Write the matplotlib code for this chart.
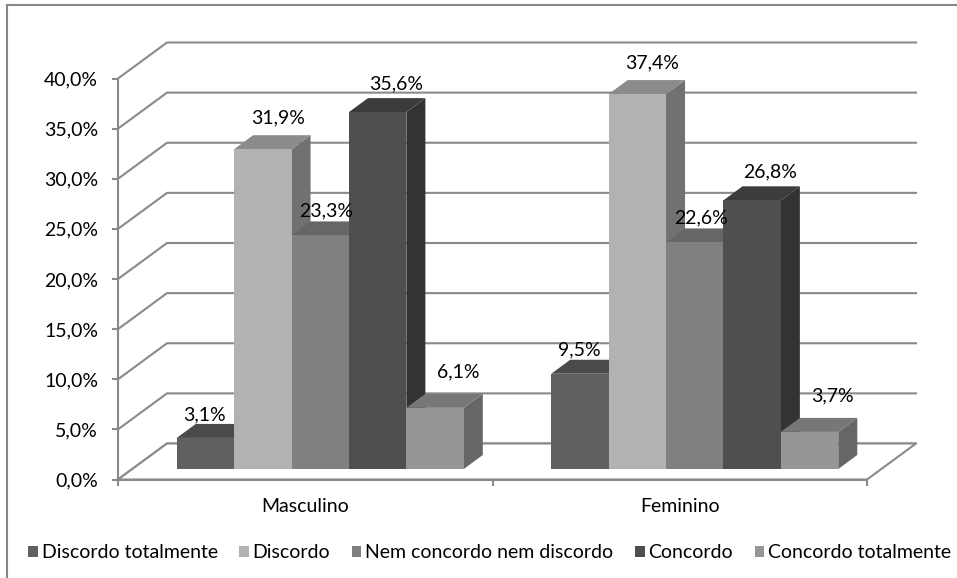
import matplotlib
matplotlib.use("Agg")
import matplotlib.pyplot as plt
from matplotlib.patches import Polygon, Rectangle, Patch
from matplotlib.lines import Line2D
from matplotlib.ticker import FuncFormatter

# ---- data -------------------------------------------------------------
categories = ["Masculino", "Feminino"]
series_names = ["Discordo totalmente", "Discordo", "Nem concordo nem discordo",
                "Concordo", "Concordo totalmente"]
discordo_totalmente = [3.1, 9.5]
discordo = [31.9, 37.4]
nem_concordo = [23.3, 22.6]
concordo = [35.6, 26.8]
concordo_totalmente = [6.1, 3.7]
series_values = [discordo_totalmente, discordo, nem_concordo, concordo, concordo_totalmente]
y_ticks = [0, 5, 10, 15, 20, 25, 30, 35, 40]

# ---- style ------------------------------------------------------------
front_colors = ["#606060", "#b2b2b2", "#808080", "#4f4f4f", "#969696"]
top_colors = ["#4a4a4a", "#8b8b8b", "#666666", "#3c3c3c", "#777777"]
side_colors = ["#404040", "#717171", "#5a5a5a", "#333333", "#666666"]
grid_color = "#8a8a8a"
FONT = ["Lato", "DejaVu Sans"]
FS = 14

plt.rcParams["font.family"] = FONT

W, H = 957, 578
fig = plt.figure(figsize=(W / 100, H / 100), dpi=100)
fig.patch.set_facecolor("white")

# front plane of the 3-D box, in pixels
X0, X1 = 118, 867
Y0, Y1 = 479.5, 78.5
ax = fig.add_axes([X0 / W, 1 - Y0 / H, (X1 - X0) / W, (Y0 - Y1) / H])
ax.set_xlim(0, 2)
ax.set_ylim(0, 40)
ax.set_facecolor("none")

px_x = 2 / (X1 - X0)      # data units per pixel
px_y = 40 / (Y0 - Y1)

# depth of the box, position/depth of the bar row (pixels)
depth_dx, depth_dy = 49 * px_x, 36 * px_y
row_dx, row_dy = 15 * px_x, 10.5 * px_y
bar_dx, bar_dy = 19 * px_x, 14 * px_y

n = len(series_values)
group_w = 0.7665
bar_w = group_w / n

# side wall + back wall gridlines
for v in y_ticks:
    ax.add_line(Line2D([0, depth_dx, 2 + depth_dx], [v, v + depth_dy, v + depth_dy],
                       color=grid_color, lw=1.5, zorder=0.5, clip_on=False,
                       solid_joinstyle="miter"))

# floor
floor = Polygon([(0, 0), (2, 0), (2 + depth_dx, depth_dy), (depth_dx, depth_dy)],
                closed=True, facecolor="white", edgecolor=grid_color, lw=1.5,
                zorder=0.6, clip_on=False)
ax.add_patch(floor)

# bars (front, top and right faces)
label_nudge = [(-1, 9.5), (15, 17.5), (6, 10.5), (18, 14), (23, 22)]
z = 2
for j, cat in enumerate(categories):
    start = j + 0.5 - group_w / 2
    for i, vals in enumerate(series_values):
        v = vals[j]
        x = start + i * bar_w + row_dx
        y = row_dy
        front = Rectangle((x, y), bar_w, v, facecolor=front_colors[i],
                          edgecolor="none", zorder=z, clip_on=False)
        top = Polygon([(x, y + v), (x + bar_w, y + v),
                       (x + bar_w + bar_dx, y + v + bar_dy), (x + bar_dx, y + v + bar_dy)],
                      closed=True, facecolor=top_colors[i], edgecolor="none",
                      zorder=z, clip_on=False)
        side = Polygon([(x + bar_w, y), (x + bar_w, y + v),
                        (x + bar_w + bar_dx, y + v + bar_dy), (x + bar_w + bar_dx, y + bar_dy)],
                       closed=True, facecolor=side_colors[i], edgecolor="none",
                       zorder=z, clip_on=False)
        ax.add_patch(side)
        ax.add_patch(top)
        ax.add_patch(front)
        z += 0.01
        nx, ny = label_nudge[i]
        ax.text(x + bar_w / 2 + nx * px_x, y + v + bar_dy + ny * px_y,
                f"{v:.1f}%".replace(".", ","), ha="center", va="center",
                fontsize=FS, color="black", zorder=10)

# axes: spines, ticks, labels
for s in ["top", "right"]:
    ax.spines[s].set_visible(False)
for s in ["left", "bottom"]:
    ax.spines[s].set_color(grid_color)
    ax.spines[s].set_linewidth(1.5)
    ax.spines[s].set_zorder(0.7)

ax.set_yticks(y_ticks)
ax.yaxis.set_major_formatter(FuncFormatter(lambda v, p: f"{v:.1f}%".replace(".", ",")))
ax.tick_params(axis="y", direction="out", length=4.3, width=1.5, color=grid_color,
               pad=10, labelsize=FS)

ax.set_xticks([0, 1, 2])
ax.set_xticklabels([])
ax.set_xticks([0.5, 1.5], minor=True)
ax.set_xticklabels(categories, minor=True)
ax.tick_params(axis="x", which="major", direction="out", length=4.3, width=1.5,
               color=grid_color)
ax.tick_params(axis="x", which="minor", length=0, pad=13, labelsize=FS)

# legend
handles = [Patch(facecolor=c, edgecolor="none") for c in front_colors]
fig.legend(handles, series_names, loc="center left",
           bbox_to_anchor=(28 / W, 1 - 553 / H), ncol=5, frameon=False,
           fontsize=FS, handlelength=0.5, handleheight=0.5, handletextpad=0.2,
           columnspacing=1.1, borderpad=0, borderaxespad=0)

# chart-area border
fig.add_artist(Line2D([7 / W, 7 / W], [0, 1 - 5 / H], transform=fig.transFigure,
                      color="#888888", lw=1.5))
fig.add_artist(Line2D([7 / W, 1], [1 - 5 / H, 1 - 5 / H], transform=fig.transFigure,
                      color="#888888", lw=1.5))

fig.savefig("out.png", dpi=100, facecolor="white")
